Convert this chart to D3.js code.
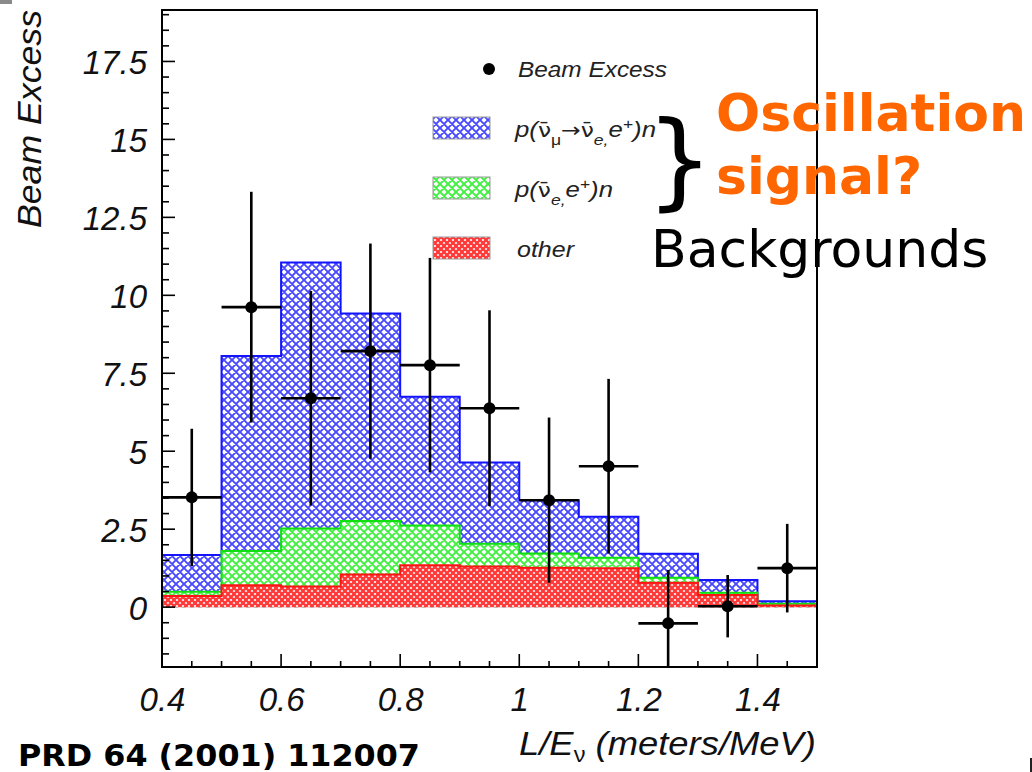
<!DOCTYPE html>
<html>
<head>
<meta charset="utf-8">
<script src="https://cdn.jsdelivr.net/npm/d3@7"></script>
<style>
  html, body { margin: 0; padding: 0; background: #fff; }
  svg { display: block; }
</style>
</head>
<body>
<svg id="chart" width="1032" height="772"></svg>
<script>
// L/E distribution of the beam-on excess with stacked expectations
const binCenters = [0.45, 0.55, 0.65, 0.75, 0.85, 0.95, 1.05, 1.15, 1.25, 1.35, 1.45];
const binHalfWidth = 0.05;

// stacked components (own contribution per bin)
const otherBg    = [0.36, 0.70, 0.66, 1.05, 1.34, 1.30, 1.26, 1.25, 0.78, 0.39, 0.05];
const nueBg      = [0.13, 1.10, 1.86, 1.71, 1.28, 0.73, 0.46, 0.33, 0.16, 0.07, 0.06];
const oscSignal  = [1.18, 6.25, 8.53, 6.66, 4.13, 2.61, 1.71, 1.32, 0.77, 0.41, 0.08];

// measured beam excess with symmetric errors
const beamExcess = [3.52, 9.62, 6.70, 8.21, 7.76, 6.38, 3.43, 4.52, -0.52, 0.03, 1.25];
const beamError  = [2.20, 3.70, 3.44, 3.45, 3.44, 3.14, 2.65, 2.80, 1.71, 1.00, 1.42];

const yTickValues = [0, 2.5, 5, 7.5, 10, 12.5, 15, 17.5];
const yTickLabels = ["0", "2.5", "5", "7.5", "10", "12.5", "15", "17.5"];
const xTickValues = [0.4, 0.6, 0.8, 1.0, 1.2, 1.4];
const xTickLabels = ["0.4", "0.6", "0.8", "1", "1.2", "1.4"];

const svg = d3.select("#chart");
const frame = { left: 162, right: 817, top: 10, bottom: 667 };

const x = d3.scaleLinear().domain([0.4, 1.5]).range([frame.left, frame.right]);
const y = d3.scaleLinear().domain([-1.92, 19.15]).range([frame.bottom, frame.top]);

const rootFont = "'Liberation Sans', Arial, Helvetica, sans-serif";
const slideFont = "'DejaVu Sans', sans-serif";

// ---- hatch patterns: diagonal cross-hatch on white ----
const defs = svg.append("defs");
function crossHatch(id, color, s, width) {
  const p = defs.append("pattern")
    .attr("id", id)
    .attr("patternUnits", "userSpaceOnUse")
    .attr("width", s).attr("height", s);
  p.append("rect").attr("width", s).attr("height", s).attr("fill", "#fff");
  const e = 2;
  const d =
    `M${-e},${-e}L${s + e},${s + e} M${-e},${s - e}L${e},${s + e} M${s - e},${-e}L${s + e},${e} ` +
    `M${s + e},${-e}L${-e},${s + e} M${-e},${e}L${e},${-e} M${s - e},${s + e}L${s + e},${s - e}`;
  p.append("path").attr("d", d)
    .attr("stroke", color).attr("stroke-width", width).attr("fill", "none");
}
crossHatch("hatchBlue", "#4848ff", 8, 1.9);
crossHatch("hatchGreen", "#3cf03c", 8, 1.9);
crossHatch("hatchRed", "#ff3838", 6, 2.3);

defs.append("clipPath").attr("id", "plotClip")
  .append("rect")
  .attr("x", frame.left).attr("y", frame.top)
  .attr("width", frame.right - frame.left).attr("height", frame.bottom - frame.top);

// ---- stacked histogram ----
const rows = binCenters.map((c, i) => ({ c, other: otherBg[i], nue: nueBg[i], osc: oscSignal[i] }));
const stacked = d3.stack().keys(["other", "nue", "osc"])(rows);

const layers = [
  { key: "osc", fill: "url(#hatchBlue)", stroke: "#1414ff" },
  { key: "nue", fill: "url(#hatchGreen)", stroke: "#10e010" },
  { key: "other", fill: "url(#hatchRed)", stroke: "#ff1414" }
];

const stepArea = d3.area()
  .x(d => x(d.x)).y0(y(0)).y1(d => y(d.v))
  .curve(d3.curveStepAfter);
const stepLine = d3.line()
  .x(d => x(d.x)).y(d => y(d.v))
  .curve(d3.curveStepAfter);

const histG = svg.append("g").attr("clip-path", "url(#plotClip)");
layers.forEach(L => {
  const series = stacked.find(s => s.key === L.key);
  const pts = series.map((d, i) => ({ x: binCenters[i] - binHalfWidth, v: d[1] }));
  pts.push({ x: binCenters[binCenters.length - 1] + binHalfWidth, v: series[series.length - 1][1] });
  histG.append("path").datum(pts).attr("d", stepArea).attr("fill", L.fill);
  const outline = [{ x: pts[0].x, v: 0 }].concat(pts, [{ x: pts[pts.length - 1].x, v: 0 }]);
  histG.append("path").datum(outline).attr("d", stepLine)
    .attr("fill", "none").attr("stroke", L.stroke).attr("stroke-width", 2);
});

// ---- data points with error bars ----
const ptsG = svg.append("g").attr("clip-path", "url(#plotClip)");
binCenters.forEach((c, i) => {
  const v = beamExcess[i], e = beamError[i];
  ptsG.append("line")
    .attr("x1", x(c - binHalfWidth)).attr("x2", x(c + binHalfWidth))
    .attr("y1", y(v)).attr("y2", y(v))
    .attr("stroke", "#000").attr("stroke-width", 2.6);
  ptsG.append("line")
    .attr("x1", x(c)).attr("x2", x(c))
    .attr("y1", y(v - e)).attr("y2", y(v + e))
    .attr("stroke", "#000").attr("stroke-width", 2.6);
  ptsG.append("circle").attr("cx", x(c)).attr("cy", y(v)).attr("r", 6).attr("fill", "#000");
});

// ---- frame and ticks ----
svg.append("rect")
  .attr("x", frame.left).attr("y", frame.top)
  .attr("width", frame.right - frame.left).attr("height", frame.bottom - frame.top)
  .attr("fill", "none").attr("stroke", "#000").attr("stroke-width", 2);

const yMinor = d3.range(-1.5, 19.01, 0.5);
const yAxisG = svg.append("g").attr("transform", `translate(${frame.left},0)`);
yAxisG.selectAll("line").data(yMinor).join("line")
  .attr("x1", 0).attr("x2", d => (Math.abs(d / 2.5 - Math.round(d / 2.5)) < 1e-6 ? 13 : 7))
  .attr("y1", d => y(d)).attr("y2", d => y(d))
  .attr("stroke", "#000").attr("stroke-width", 1.6);

const yAxis = d3.axisLeft(y).tickValues(yTickValues)
  .tickFormat((d, i) => yTickLabels[i]).tickSize(0).tickPadding(15);
const yAx = svg.append("g").attr("transform", `translate(${frame.left},0)`).call(yAxis);
yAx.select(".domain").remove();
yAx.selectAll("text")
  .attr("font-family", rootFont).attr("font-style", "italic")
  .attr("font-size", 33).attr("fill", "#111").attr("dy", "0.36em");

const xMinor = d3.range(0.45, 1.4999, 0.05);
const xAxisG = svg.append("g").attr("transform", `translate(0,${frame.bottom})`);
xAxisG.selectAll("line").data(xMinor).join("line")
  .attr("x1", d => x(d)).attr("x2", d => x(d))
  .attr("y1", 0).attr("y2", d => (Math.abs(d / 0.2 - Math.round(d / 0.2)) < 1e-6 ? -13 : -6))
  .attr("stroke", "#000").attr("stroke-width", 1.6);

const xAxis = d3.axisBottom(x).tickValues(xTickValues)
  .tickFormat((d, i) => xTickLabels[i]).tickSize(0).tickPadding(21);
const xAx = svg.append("g").attr("transform", `translate(0,${frame.bottom})`).call(xAxis);
xAx.select(".domain").remove();
xAx.selectAll("text")
  .attr("font-family", rootFont).attr("font-style", "italic")
  .attr("font-size", 33).attr("fill", "#111");

// ---- axis titles ----
svg.append("text")
  .attr("transform", "translate(41,228) rotate(-90)")
  .attr("font-family", rootFont).attr("font-style", "italic")
  .attr("font-size", 34).attr("fill", "#111")
  .attr("textLength", 218).attr("lengthAdjust", "spacingAndGlyphs")
  .text("Beam Excess");

const xt = svg.append("text")
  .attr("x", 519).attr("y", 755)
  .attr("font-family", rootFont).attr("font-style", "italic")
  .attr("font-size", 34).attr("fill", "#111")
  .attr("textLength", 297).attr("lengthAdjust", "spacingAndGlyphs");
xt.append("tspan").text("L/E");
xt.append("tspan").attr("dy", 7).attr("font-size", 22).attr("font-style", "normal").text("ν");
xt.append("tspan").attr("dy", -7).text(" (meters/MeV)");

// ---- legend ----
const leg = svg.append("g").attr("font-family", rootFont).attr("font-style", "italic").attr("fill", "#222");
leg.append("circle").attr("cx", 489).attr("cy", 69).attr("r", 6).attr("fill", "#000");
leg.append("text").attr("x", 518).attr("y", 77).attr("font-size", 22)
  .attr("textLength", 149).attr("lengthAdjust", "spacingAndGlyphs").text("Beam Excess");

const boxes = [
  { y: 117, fill: "url(#hatchBlue)" },
  { y: 177, fill: "url(#hatchGreen)" },
  { y: 237, fill: "url(#hatchRed)" }
];
boxes.forEach(b => {
  leg.append("rect").attr("x", 433).attr("y", b.y).attr("width", 57).attr("height", 22)
    .attr("fill", b.fill).attr("stroke", "#999").attr("stroke-width", 1);
});

const t1 = leg.append("text").attr("x", 515).attr("y", 137).attr("font-size", 22)
  .attr("textLength", 141).attr("lengthAdjust", "spacingAndGlyphs");
t1.append("tspan").text("p(");
t1.append("tspan").attr("font-style", "normal").attr("font-family", slideFont).attr("font-size", 20).text("\u03BD\u0304");
t1.append("tspan").attr("dy", 8).attr("font-size", 15).attr("font-style", "normal").text("\u03BC");
t1.append("tspan").attr("dy", -8).attr("font-style", "normal").attr("font-family", slideFont).attr("font-size", 20).text("\u2192\u03BD\u0304");
t1.append("tspan").attr("dy", 8).attr("font-size", 15).text("e");
t1.append("tspan").attr("font-size", 15).text(",");
t1.append("tspan").attr("dy", -8).text("e");
t1.append("tspan").attr("dy", -8).attr("font-size", 15).text("+");
t1.append("tspan").attr("dy", 8).text(")n");

const t2 = leg.append("text").attr("x", 515).attr("y", 197).attr("font-size", 22)
  .attr("textLength", 98).attr("lengthAdjust", "spacingAndGlyphs");
t2.append("tspan").text("p(");
t2.append("tspan").attr("font-style", "normal").attr("font-family", slideFont).attr("font-size", 20).text("\u03BD\u0304");
t2.append("tspan").attr("dy", 8).attr("font-size", 15).text("e");
t2.append("tspan").attr("font-size", 15).text(",");
t2.append("tspan").attr("dy", -8).text("e");
t2.append("tspan").attr("dy", -8).attr("font-size", 15).text("+");
t2.append("tspan").attr("dy", 8).text(")n");

leg.append("text").attr("x", 517).attr("y", 257).attr("font-size", 22)
  .attr("textLength", 57).attr("lengthAdjust", "spacingAndGlyphs").text("other");

// ---- annotations ----
svg.append("text").attr("x", 646).attr("y", 196)
  .attr("font-family", slideFont).attr("font-size", 106).attr("fill", "#000").text("}");
svg.append("text").attr("x", 716).attr("y", 131)
  .attr("font-family", slideFont).attr("font-weight", "bold").attr("font-size", 52)
  .attr("fill", "#ff6600").text("Oscillation");
svg.append("text").attr("x", 716).attr("y", 194)
  .attr("font-family", slideFont).attr("font-weight", "bold").attr("font-size", 52)
  .attr("fill", "#ff6600").text("signal?");
svg.append("text").attr("x", 651).attr("y", 267)
  .attr("font-family", slideFont).attr("font-size", 52).attr("fill", "#000").text("Backgrounds");
svg.append("text").attr("x", 18).attr("y", 766)
  .attr("font-family", slideFont).attr("font-weight", "bold").attr("font-size", 31)
  .attr("fill", "#000")
  .attr("textLength", 402).attr("lengthAdjust", "spacingAndGlyphs")
  .text("PRD 64 (2001) 112007");

// slide edge marks
svg.append("rect").attr("x", 0).attr("y", 0).attr("width", 12).attr("height", 4).attr("fill", "#8a8a8a");
svg.append("rect").attr("x", 1030).attr("y", 758).attr("width", 2).attr("height", 14).attr("fill", "#222");
</script>
</body>
</html>
